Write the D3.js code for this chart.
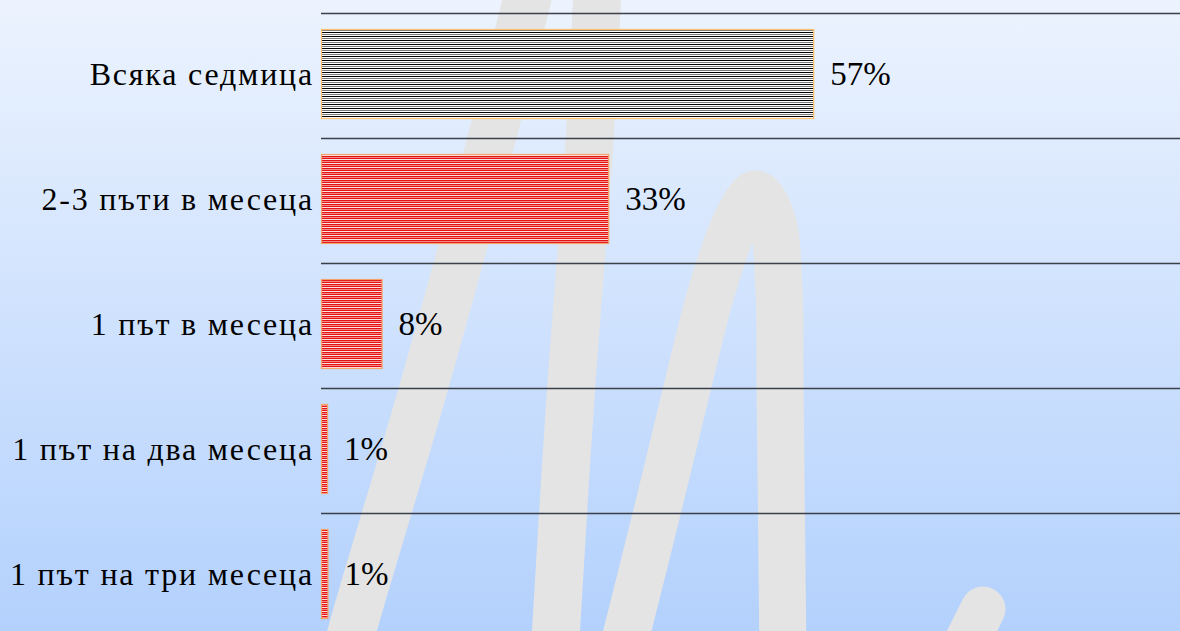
<!DOCTYPE html>
<html>
<head>
<meta charset="utf-8">
<script src="https://cdn.jsdelivr.net/npm/d3@7"></script>
<style>
  html, body { margin: 0; padding: 0; overflow: hidden; }
  svg { display: block; }
</style>
</head>
<body>
<div id="svg-container"></div>
<script>
// data
const categories = ["Всяка седмица", "2-3 пъти в месеца", "1 път в месеца", "1 път на два месеца", "1 път на три месеца"];
const values = [56.9, 33.2, 7.0, 0.7, 0.75];        // bar length in %
const valueLabels = ["57%", "33%", "8%", "1%", "1%"];
const fills = ["url(#stripeBW)", "url(#stripeRed)", "url(#stripeRed)", "url(#stripeRed)", "url(#stripeRed)"];
const strokes = ["#ffc06a", "#f4a46a", "#f4a46a", "#f4a46a", "#f4a46a"];

// background swoosh (decoration)
const swooshA = [[532, -20], [527, 0], [486, 160], [423, 390], [352, 631], [345, 660]];
const swooshB = [[598, -20], [597, 0], [589, 150], [571, 390], [556, 631], [555, 660]];
const swooshC = [[620, 660], [660, 500], [689, 380], [712, 290], [737, 220], [756, 194], [772, 220], [779, 290], [780, 380], [783, 660]];
const swooshD = [[983, 609], [955, 665]];

const width = 1180, height = 631;
const margin = { top: 13, left: 321 };
const font = "Liberation Serif, DejaVu Serif, serif";

const svg = d3.select("#svg-container").append("svg")
  .attr("width", width).attr("height", height);

const defs = svg.append("defs");

const grad = defs.append("linearGradient").attr("id", "bg")
  .attr("x1", 0).attr("y1", 0).attr("x2", 0).attr("y2", 1);
grad.append("stop").attr("offset", "0%").attr("stop-color", "#ecf3fe");
grad.append("stop").attr("offset", "100%").attr("stop-color", "#b3d1fd");

// stripes
const pBW = defs.append("pattern").attr("id", "stripeBW")
  .attr("patternUnits", "userSpaceOnUse").attr("width", 8).attr("height", 4);
pBW.append("rect").attr("width", 8).attr("height", 4).attr("fill", "#fff");
pBW.append("rect").attr("y", 0).attr("width", 8).attr("height", 1).attr("fill", "#000");
pBW.append("rect").attr("y", 2).attr("width", 8).attr("height", 1).attr("fill", "#7a7a7a");

const pR = defs.append("pattern").attr("id", "stripeRed")
  .attr("patternUnits", "userSpaceOnUse").attr("width", 8).attr("height", 4);
pR.append("rect").attr("width", 8).attr("height", 4).attr("fill", "#e41212");
pR.append("rect").attr("y", 1).attr("width", 8).attr("height", 1).attr("fill", "#f28a8a");
pR.append("rect").attr("y", 3).attr("width", 8).attr("height", 1).attr("fill", "#ffe0e0");

svg.append("rect").attr("width", width).attr("height", height).attr("fill", "url(#bg)");

const swoosh = d3.line().curve(d3.curveCatmullRom);
const deco = svg.append("g").attr("fill", "none").attr("stroke", "#e4e4e4")
  .attr("stroke-linecap", "round").attr("stroke-linejoin", "round");
deco.append("path").attr("d", swoosh(swooshA)).attr("stroke-width", 48);
deco.append("path").attr("d", swoosh(swooshB)).attr("stroke-width", 48);
deco.append("path").attr("d", swoosh(swooshC)).attr("stroke-width", 47);
deco.append("path").attr("d", swoosh(swooshD)).attr("stroke-width", 45);

// scales
const xScale = d3.scaleLinear().domain([0, 100]).range([margin.left, margin.left + 865]);
const yScale = d3.scaleBand().domain(categories).range([margin.top, margin.top + 5 * 124.3])
  .paddingInner(0.285).paddingOuter(0.13);

// grid lines
const step = yScale.step();
const gridY = categories.map((d, i) => Math.round(margin.top + i * step) + 0.5);
svg.append("g").selectAll("line").data(gridY).join("line")
  .attr("x1", margin.left).attr("x2", width)
  .attr("y1", (d) => d).attr("y2", (d) => d)
  .attr("stroke", "#3a3f48").attr("stroke-width", 1.4);

// bars
svg.append("g").selectAll("rect").data(categories).join("rect")
  .attr("x", xScale(0) + 0.5)
  .attr("y", (d) => Math.round(yScale(d)) + 0.5)
  .attr("width", (d, i) => xScale(values[i]) - xScale(0))
  .attr("height", Math.round(yScale.bandwidth()))
  .attr("fill", (d, i) => fills[i])
  .attr("stroke", (d, i) => strokes[i])
  .attr("stroke-width", 1.2);

// category labels
svg.append("g").selectAll("text").data(categories).join("text")
  .attr("x", margin.left - 7)
  .attr("y", (d) => yScale(d) + yScale.bandwidth() / 2 + 11)
  .attr("text-anchor", "end")
  .style("font-family", font)
  .style("font-size", "32px")
  .style("letter-spacing", "1.8px")
  .text((d) => d);

// value labels
svg.append("g").selectAll("text").data(categories).join("text")
  .attr("x", (d, i) => xScale(values[i]) + 17)
  .attr("y", (d) => yScale(d) + yScale.bandwidth() / 2 + 11)
  .style("font-family", font)
  .style("font-size", "33px")
  .text((d, i) => valueLabels[i]);
</script>
</body>
</html>
